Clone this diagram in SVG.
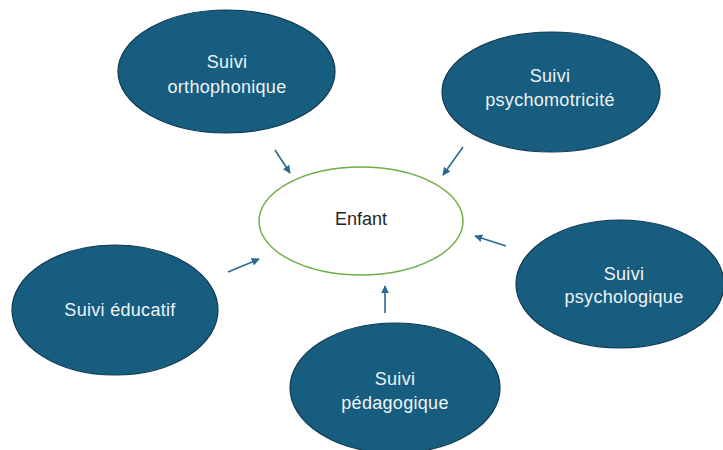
<svg xmlns="http://www.w3.org/2000/svg" width="723" height="450" viewBox="0 0 723 450">
  <style>
    .node { fill: #175d80; stroke: #0e3a52; stroke-width: 1.2; }
    .center { fill: #ffffff; stroke: #70ad47; stroke-width: 1.5; }
    .lbl { font-family: "Liberation Sans", Arial, sans-serif; font-size: 18px; fill: #eef3f6; text-anchor: middle; letter-spacing: 0.3px; }
    .clbl { font-family: "Liberation Sans", Arial, sans-serif; font-size: 18px; fill: #262626; text-anchor: middle; }
    .conn { stroke: #2a6a92; stroke-width: 1.6; fill: none; marker-end: url(#ah); }
  </style>
  <defs>
    <marker id="ah" viewBox="0 0 10 10" refX="9" refY="5" markerWidth="5" markerHeight="5" orient="auto" markerUnits="strokeWidth">
      <path d="M0,0 L10,5 L0,10 z" fill="#2a6a92"/>
    </marker>
  </defs>
  <rect width="723" height="450" fill="#ffffff"/>

  <g id="enfant">
    <ellipse class="center" cx="361" cy="221" rx="102" ry="54"/>
    <text class="clbl" x="361" y="225">Enfant</text>
  </g>

  <g id="orthophonique">
    <ellipse class="node" cx="226.5" cy="71.5" rx="108.5" ry="61.5"/>
    <text class="lbl" x="227" y="68">Suivi</text>
    <text class="lbl" x="227" y="93">orthophonique</text>
  </g>

  <g id="psychomotricite">
    <ellipse class="node" cx="551" cy="92" rx="109" ry="60"/>
    <text class="lbl" x="550" y="82">Suivi</text>
    <text class="lbl" x="550" y="106">psychomotricité</text>
  </g>

  <g id="educatif">
    <ellipse class="node" cx="115" cy="310" rx="103" ry="65"/>
    <text class="lbl" x="120" y="316">Suivi éducatif</text>
  </g>

  <g id="pedagogique">
    <ellipse class="node" cx="395" cy="388" rx="105" ry="65"/>
    <text class="lbl" x="395" y="385">Suivi</text>
    <text class="lbl" x="395" y="409">pédagogique</text>
  </g>

  <g id="psychologique">
    <ellipse class="node" cx="620" cy="284" rx="104" ry="64"/>
    <text class="lbl" x="624" y="280">Suivi</text>
    <text class="lbl" x="624" y="303">psychologique</text>
  </g>

  <g id="connectors">
    <line class="conn" x1="275" y1="150" x2="290" y2="173"/>
    <line class="conn" x1="463" y1="147" x2="443" y2="175"/>
    <line class="conn" x1="228" y1="272" x2="259" y2="259"/>
    <line class="conn" x1="385" y1="313" x2="385" y2="286"/>
    <line class="conn" x1="506" y1="246" x2="475" y2="236"/>
  </g>
</svg>
